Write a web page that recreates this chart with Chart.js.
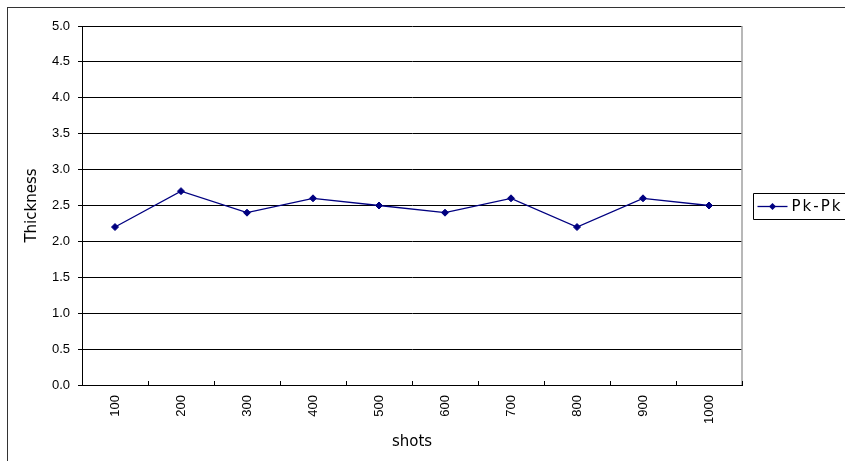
<!DOCTYPE html>
<html>
<head>
<meta charset="utf-8">
<script src="https://cdn.jsdelivr.net/npm/chart.js@4.4.0/dist/chart.umd.min.js"></script>
<style>
  html, body { margin: 0; padding: 0; background: #fff; overflow: hidden; }
</style>
</head>
<body>
<canvas id="thicknessChart" width="845" height="461"></canvas>
<script>
// chart data
const shots = ["100", "200", "300", "400", "500", "600", "700", "800", "900", "1000"];
const pkPk = [2.2, 2.7, 2.4, 2.6, 2.5, 2.4, 2.6, 2.2, 2.6, 2.5];
const yTickValues = [0, 0.5, 1.0, 1.5, 2.0, 2.5, 3.0, 3.5, 4.0, 4.5, 5.0];
const seriesName = "Pk-Pk";
const xTitle = "shots";
const yTitle = "Thickness";

const lineColor = "#000080";

// draws the outer frame, the plot border, inward x ticks and the legend box
const excelFrame = {
    id: "excelFrame",
    afterDraw(chart) {
        const ctx = chart.ctx;
        const area = chart.chartArea;
        const xScale = chart.scales.x;
        ctx.save();

        // outer chart border
        ctx.strokeStyle = "#333";
        ctx.lineWidth = 1;
        ctx.strokeRect(7.5, 7.5, 900, 500);

        // right edge of plot area
        ctx.strokeStyle = "#a0a0a0";
        ctx.lineWidth = 1.5;
        ctx.beginPath();
        ctx.moveTo(area.right, area.top);
        ctx.lineTo(area.right, area.bottom);
        ctx.stroke();

        // x ticks between categories, pointing inward
        ctx.strokeStyle = "#000";
        ctx.lineWidth = 1;
        ctx.beginPath();
        for (let i = 0; i <= shots.length; i++) {
            const x = Math.round(xScale.getPixelForValue(i - 0.5)) + 0.5;
            ctx.moveTo(x, area.bottom);
            ctx.lineTo(x, area.bottom - 4);
        }
        ctx.stroke();

        // legend (runs off the right edge like the original)
        const midY = Math.round((area.top + area.bottom) / 2) + 0.5;
        const boxLeft = Math.round(area.right) + 11.5;
        ctx.strokeStyle = "#000";
        ctx.lineWidth = 1;
        ctx.beginPath();
        ctx.moveTo(boxLeft + 300, midY - 13);
        ctx.lineTo(boxLeft, midY - 13);
        ctx.lineTo(boxLeft, midY + 13);
        ctx.lineTo(boxLeft + 300, midY + 13);
        ctx.stroke();

        ctx.strokeStyle = lineColor;
        ctx.lineWidth = 1.3;
        ctx.beginPath();
        ctx.moveTo(boxLeft + 4, midY);
        ctx.lineTo(boxLeft + 34, midY);
        ctx.stroke();

        ctx.fillStyle = lineColor;
        const cx = boxLeft + 19;
        ctx.beginPath();
        ctx.moveTo(cx, midY - 3.5);
        ctx.lineTo(cx + 3.5, midY);
        ctx.lineTo(cx, midY + 3.5);
        ctx.lineTo(cx - 3.5, midY);
        ctx.closePath();
        ctx.fill();

        ctx.fillStyle = "#000";
        ctx.font = "15px 'DejaVu Sans'";
        ctx.letterSpacing = "2px";
        ctx.textBaseline = "middle";
        ctx.textAlign = "left";
        ctx.fillText(seriesName, boxLeft + 38, midY + 1);

        ctx.restore();
    },
};

const ctx = document.getElementById("thicknessChart").getContext("2d");
new Chart(ctx, {
    type: "line",
    data: {
        labels: shots,
        datasets: [
            {
                label: seriesName,
                data: pkPk,
                borderColor: lineColor,
                backgroundColor: lineColor,
                borderWidth: 1.3,
                pointStyle: "rectRot",
                pointRadius: 3.5,
                pointBorderWidth: 1,
                pointBackgroundColor: lineColor,
                pointBorderColor: lineColor,
                tension: 0,
                fill: false,
            },
        ],
    },
    options: {
        responsive: false,
        animation: false,
        devicePixelRatio: 1,
        layout: {
            padding: { left: 19, right: 103, top: 26, bottom: 6 },
        },
        plugins: {
            legend: { display: false },
            tooltip: { enabled: false },
        },
        scales: {
            x: {
                type: "category",
                offset: true,
                grid: { display: false, drawTicks: false },
                border: { display: true, color: "#000", width: 1 },
                ticks: {
                    minRotation: 90,
                    maxRotation: 90,
                    padding: 10,
                    color: "#000",
                    font: { family: "'Liberation Sans', Arial, sans-serif", size: 13 },
                },
                title: {
                    display: true,
                    text: xTitle,
                    color: "#000",
                    font: { family: "'DejaVu Sans', sans-serif", size: 15 },
                    padding: { top: 4, bottom: 4 },
                },
                afterFit(scale) {
                    scale.height = 70;
                },
            },
            y: {
                min: 0,
                max: 5,
                afterBuildTicks(scale) {
                    scale.ticks = yTickValues.map((v) => ({ value: v }));
                },
                ticks: {
                    padding: 8,
                    color: "#000",
                    font: { family: "'Liberation Sans', Arial, sans-serif", size: 13 },
                    callback: (v) => Number(v).toFixed(1),
                },
                grid: { color: "#000", lineWidth: 1, drawTicks: true, tickLength: 4 },
                border: { display: true, color: "#000", width: 1 },
                title: {
                    display: true,
                    text: yTitle,
                    color: "#000",
                    font: { family: "'DejaVu Sans', sans-serif", size: 15 },
                    padding: { top: 4, bottom: 4 },
                },
                afterFit(scale) {
                    scale.width = 63;
                },
            },
        },
    },
    plugins: [excelFrame],
});
</script>
</body>
</html>
